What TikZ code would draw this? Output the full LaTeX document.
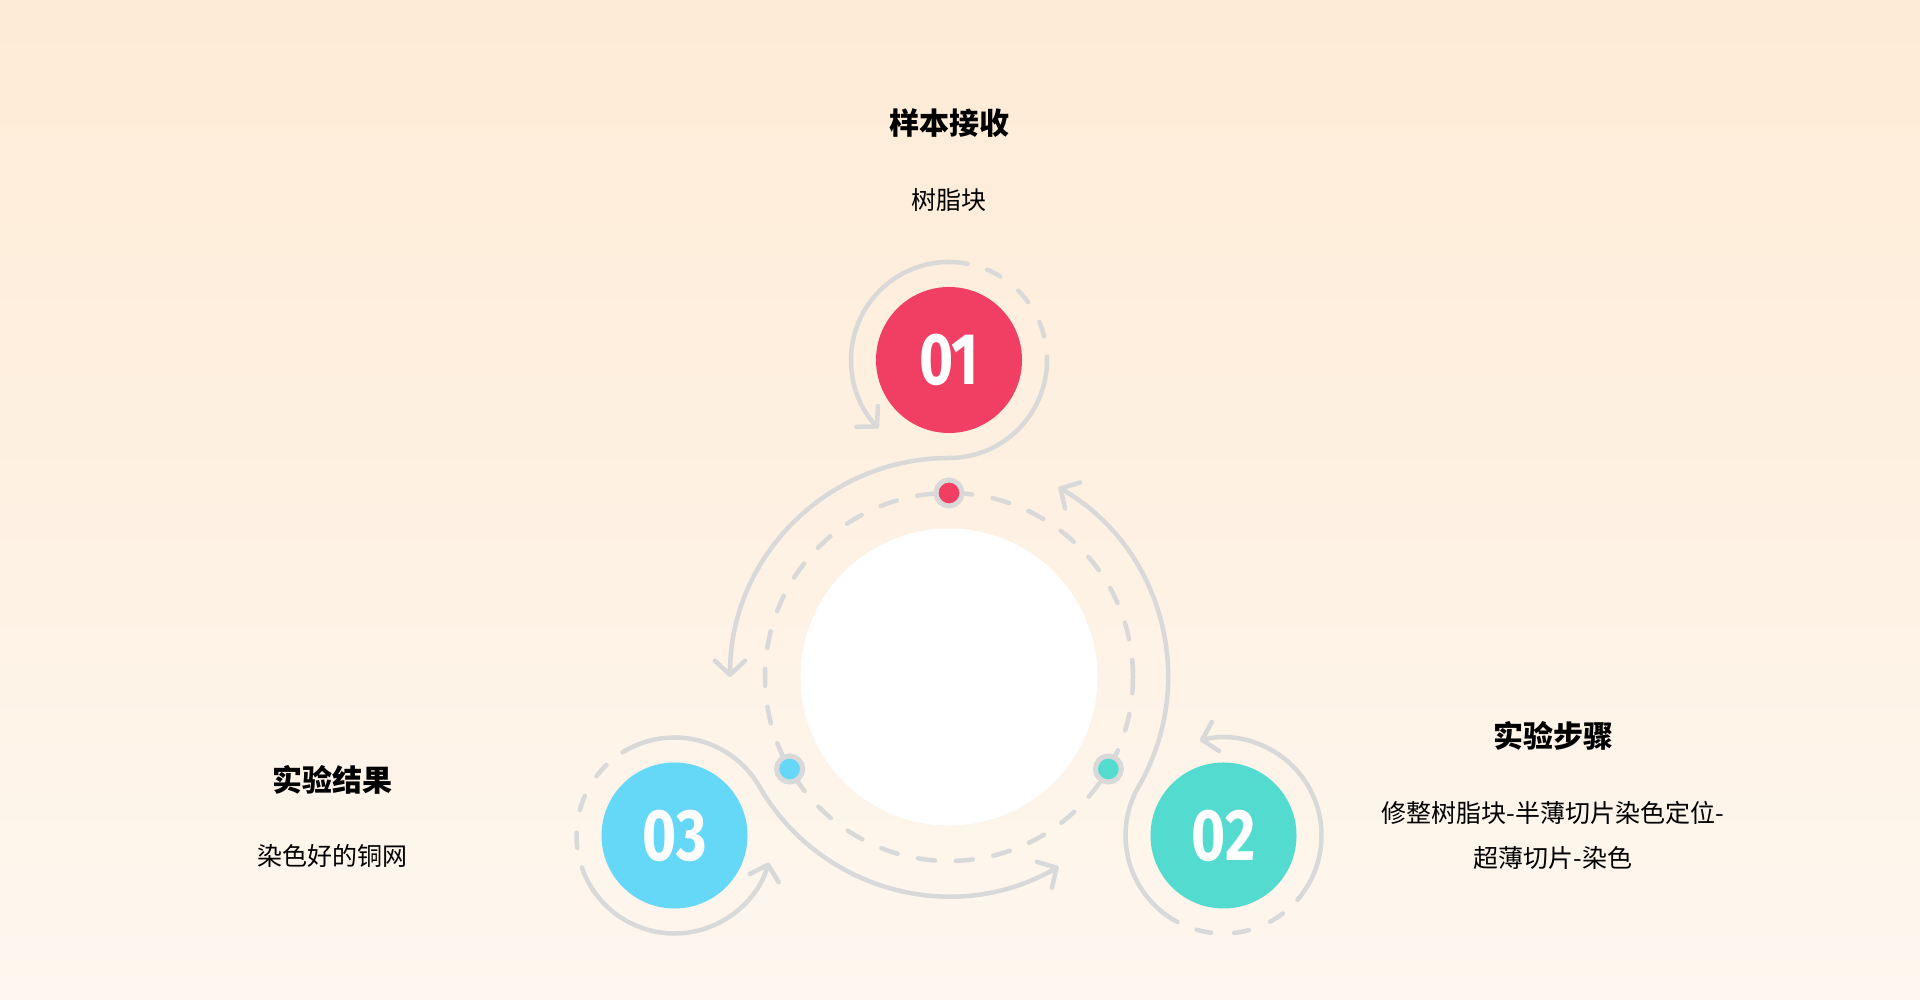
\documentclass[tikz,border=0pt]{standalone}
\usepackage{fontspec}
\usepackage{tikz}
\usetikzlibrary{arrows.meta,positioning}
\newfontfamily\cjk{Noto Sans CJK SC}
\newfontfamily\numfont[Numbers=Lining]{Fira Sans}
\definecolor{bgtop}{RGB}{254,235,214}
\definecolor{bgbottom}{RGB}{254,247,239}
\definecolor{trackgray}{RGB}{217,217,217}
\definecolor{stepred}{RGB}{240,63,98}
\definecolor{stepteal}{RGB}{83,219,208}
\definecolor{stepblue}{RGB}{102,216,247}

\begin{document}
\begin{tikzpicture}[x=1pt,y=1pt,>={Straight Barb[length=14pt,width=30pt,round]}]
\tikzstyle{every node}+=[inner sep=0pt]
\tikzstyle{track}=[trackgray, line width=4.5pt, line cap=round, line join=round]
\tikzstyle{trackdash}=[track, dash pattern=on 15pt off 23pt]
\tikzstyle{numcircle}=[circle, minimum size=146pt, text=white, font=\numfont\bfseries\fontsize{73}{73}\selectfont]
\tikzstyle{dot}=[circle, draw=trackgray, line width=5pt, minimum size=26pt]
\tikzstyle{headline}=[font=\cjk\bfseries\fontsize{30}{36}\selectfont]
\tikzstyle{bodytext}=[font=\cjk\fontsize{25}{45}\selectfont, align=center]
\shade [top color=bgtop, bottom color=bgbottom] (0,0) rectangle (1920,1000);
\useasboundingbox (0,0) rectangle (1920,1000);
\node [circle, fill=white, minimum size=297pt] (hub) at (949,323) {};
\draw [track, dash pattern=on 17pt off 21pt] (hub.center) circle (184pt);
\node [numcircle, fill=stepred] (s1) at (949,640) {\scalebox{0.8}[1]{01}};
\node [numcircle, fill=stepteal] (s2) at (1223.5,164.5) {\scalebox{0.8}[1]{02}};
\node [numcircle, fill=stepblue] (s3) at (674.5,164.5) {\scalebox{0.8}[1]{03}};
\draw [track, <-] ([shift={(180:219pt)}]hub.center) arc [start angle=180, end angle=90, radius=219pt] arc [start angle=270, end angle=362, radius=98pt];
\draw [trackdash] ([shift={(14:98pt)}]s1.center) arc [start angle=14, end angle=70, radius=98pt];
\draw [track, ->] ([shift={(79:98pt)}]s1.center) arc [start angle=79, end angle=224, radius=98pt];
\draw [track, <-] ([shift={(60:219pt)}]hub.center) arc [start angle=60, end angle=-30, radius=219pt] arc [start angle=150, end angle=242, radius=98pt];
\draw [trackdash] ([shift={(254:98pt)}]s2.center) arc [start angle=254, end angle=310, radius=98pt];
\draw [track, ->] ([shift={(319:98pt)}]s2.center) arc [start angle=319, end angle=464, radius=98pt];
\draw [track, <-] ([shift={(300:219pt)}]hub.center) arc [start angle=300, end angle=210, radius=219pt] arc [start angle=30, end angle=122, radius=98pt];
\draw [trackdash] ([shift={(134:98pt)}]s3.center) arc [start angle=134, end angle=190, radius=98pt];
\draw [track, ->] ([shift={(199:98pt)}]s3.center) arc [start angle=199, end angle=344, radius=98pt];
\node [dot, fill=stepred] (d1) at ([shift={(90:184pt)}]hub.center) {};
\node [dot, fill=stepteal] (d2) at ([shift={(330:184pt)}]hub.center) {};
\node [dot, fill=stepblue] (d3) at ([shift={(210:184pt)}]hub.center) {};
\node [headline] (t1) at (949,877) {样本接收};
\node [bodytext] (b1) at (949,800) {树脂块};
\node [headline] (t2) at (1553,264) {实验步骤};
\node [bodytext] (b2) at (1553,164.5) {修整树脂块-半薄切片染色定位-\\超薄切片-染色};
\node [headline] (t3) at (332,220) {实验结果};
\node [bodytext] (b3) at (332,144) {染色好的铜网};
\end{tikzpicture}
\end{document}
